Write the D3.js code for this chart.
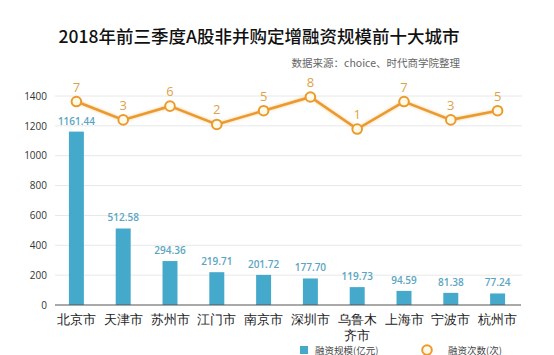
<!DOCTYPE html>
<html><head><meta charset="utf-8">
<script src="https://cdn.jsdelivr.net/npm/d3@7/dist/d3.min.js"></script>
<style>body{margin:0;background:#fff;}svg{display:block;font-family:"Noto Sans CJK SC","Noto Sans",sans-serif;}</style>
</head><body>
<script>
const cities = ["北京市","天津市","苏州市","江门市","南京市","深圳市","乌鲁木齐市","上海市","宁波市","杭州市"];
const amounts = [1161.44,512.58,294.36,219.71,201.72,177.70,119.73,94.59,81.38,77.24];
const counts = [7,3,6,2,5,8,1,7,3,5];
const yTicks = [0,200,400,600,800,1000,1200,1400];
const title = "2018年前三季度A股非并购定增融资规模前十大城市";
const source = "数据来源：choice、时代商学院整理";
const legendBar = "融资规模(亿元)";
const legendLine = "融资次数(次)";

const W=554,H=355;
const svg=d3.select("body").append("svg").attr("width",W).attr("height",H);
const defs=svg.append("defs");
const f=defs.append("filter").attr("id","glow").attr("x","-20%").attr("y","-50%").attr("width","140%").attr("height","200%");
f.append("feGaussianBlur").attr("in","SourceGraphic").attr("stdDeviation",1.6).attr("result","b");
f.append("feComponentTransfer").attr("in","b").attr("result","b2").append("feFuncA").attr("type","linear").attr("slope",0.5);
const m=f.append("feMerge");m.append("feMergeNode").attr("in","b2");m.append("feMergeNode").attr("in","SourceGraphic");

const x=d3.scaleBand().domain(cities).range([53,521]).paddingInner(0.68).paddingOuter(0.34);
const y=d3.scaleLinear().domain([0,1400]).range([305,96]);
const y2=d3.scaleLinear().domain([0,8]).range([133.6,97]);

svg.append("text").attr("x",259).attr("y",43).attr("text-anchor","middle")
 .attr("font-size",17.5).attr("font-weight",500).attr("fill","#111").text(title);
svg.append("text").attr("x",460).attr("y",67).attr("text-anchor","end")
 .attr("font-size",10.5).attr("fill","#666").text(source);

// grid
svg.append("g").selectAll("line").data(yTicks.filter(d=>d>0)).join("line")
 .attr("x1",55).attr("x2",522).attr("y1",d=>y(d)).attr("y2",d=>y(d))
 .attr("stroke","#e8e8e8").attr("stroke-width",1);
const ya=svg.append("g").attr("transform","translate(55,0)")
 .call(d3.axisLeft(y).tickValues(yTicks).tickFormat(d3.format("d")).tickSize(0).tickPadding(8));
ya.select(".domain").remove();
ya.selectAll("text").attr("font-size",10).attr("fill","#333").attr("font-family","'Open Sans','Noto Sans',sans-serif");

// bars
svg.append("g").selectAll("rect").data(cities).join("rect")
 .attr("x",d=>x(d)).attr("width",x.bandwidth())
 .attr("y",(d,i)=>y(amounts[i])).attr("height",(d,i)=>y(0)-y(amounts[i]))
 .attr("fill","#45a9cb");
svg.append("g").selectAll("text").data(cities).join("text")
 .attr("x",d=>x(d)+x.bandwidth()/2).attr("y",(d,i)=>y(amounts[i])-7)
 .attr("text-anchor","middle").attr("font-size",10).attr("font-weight",600).attr("fill","#5aa5c2")
 .attr("font-family","'Open Sans','Noto Sans',sans-serif")
 .text((d,i)=>amounts[i].toFixed(2));

// x axis
const xa=svg.append("g").attr("transform","translate(0,305)")
 .call(d3.axisBottom(x).tickSize(0).tickPadding(10));
xa.select(".domain").attr("d","M55,0H521").attr("stroke","#555").attr("stroke-width",1.2);
xa.selectAll("text").attr("font-size",13).attr("fill","#222").each(function(d){
  const t=d3.select(this);
  if(d.length>3){
    t.text(null);
    t.append("tspan").attr("x",0).attr("dy","0.71em").text(d.slice(0,3));
    t.append("tspan").attr("x",0).attr("dy","1.2em").text(d.slice(3));
    t.attr("dy",null).attr("y",10);
  }
});

// line
const cx=d=>x(d)+x.bandwidth()/2;
const line=d3.line().x(d=>cx(d)).y((d,i)=>y2(counts[i]));
svg.append("path").datum(cities).attr("d",line).attr("fill","none")
 .attr("stroke","#eb9a2e").attr("stroke-width",2.6).attr("filter","url(#glow)");
svg.append("g").selectAll("circle").data(cities).join("circle")
 .attr("cx",cx).attr("cy",(d,i)=>y2(counts[i])).attr("r",4.8)
 .attr("fill","#fffbe8").attr("stroke","#eb9a2e").attr("stroke-width",2);
svg.append("g").selectAll("text").data(cities).join("text")
 .attr("x",cx).attr("y",(d,i)=>y2(counts[i])-10)
 .attr("text-anchor","middle").attr("font-size",13).attr("fill","#dea348")
 .attr("font-family","'Open Sans','Noto Sans',sans-serif")
 .text((d,i)=>counts[i]);

// legend
svg.append("rect").attr("x",300).attr("y",346).attr("width",8).attr("height",8).attr("fill","#45a9cb");
svg.append("text").attr("x",315).attr("y",353.5).attr("font-size",9.5).attr("fill","#444").text(legendBar);
svg.append("line").attr("x1",416).attr("x2",438).attr("y1",350).attr("y2",350)
 .attr("stroke","#eb9a2e").attr("stroke-width",2.6).attr("filter","url(#glow)");
svg.append("circle").attr("cx",427).attr("cy",350).attr("r",4.8)
 .attr("fill","#fffbe8").attr("stroke","#eb9a2e").attr("stroke-width",2);
svg.append("text").attr("x",448).attr("y",353.5).attr("font-size",9.5).attr("fill","#444").text(legendLine);
</script>
</body></html>
